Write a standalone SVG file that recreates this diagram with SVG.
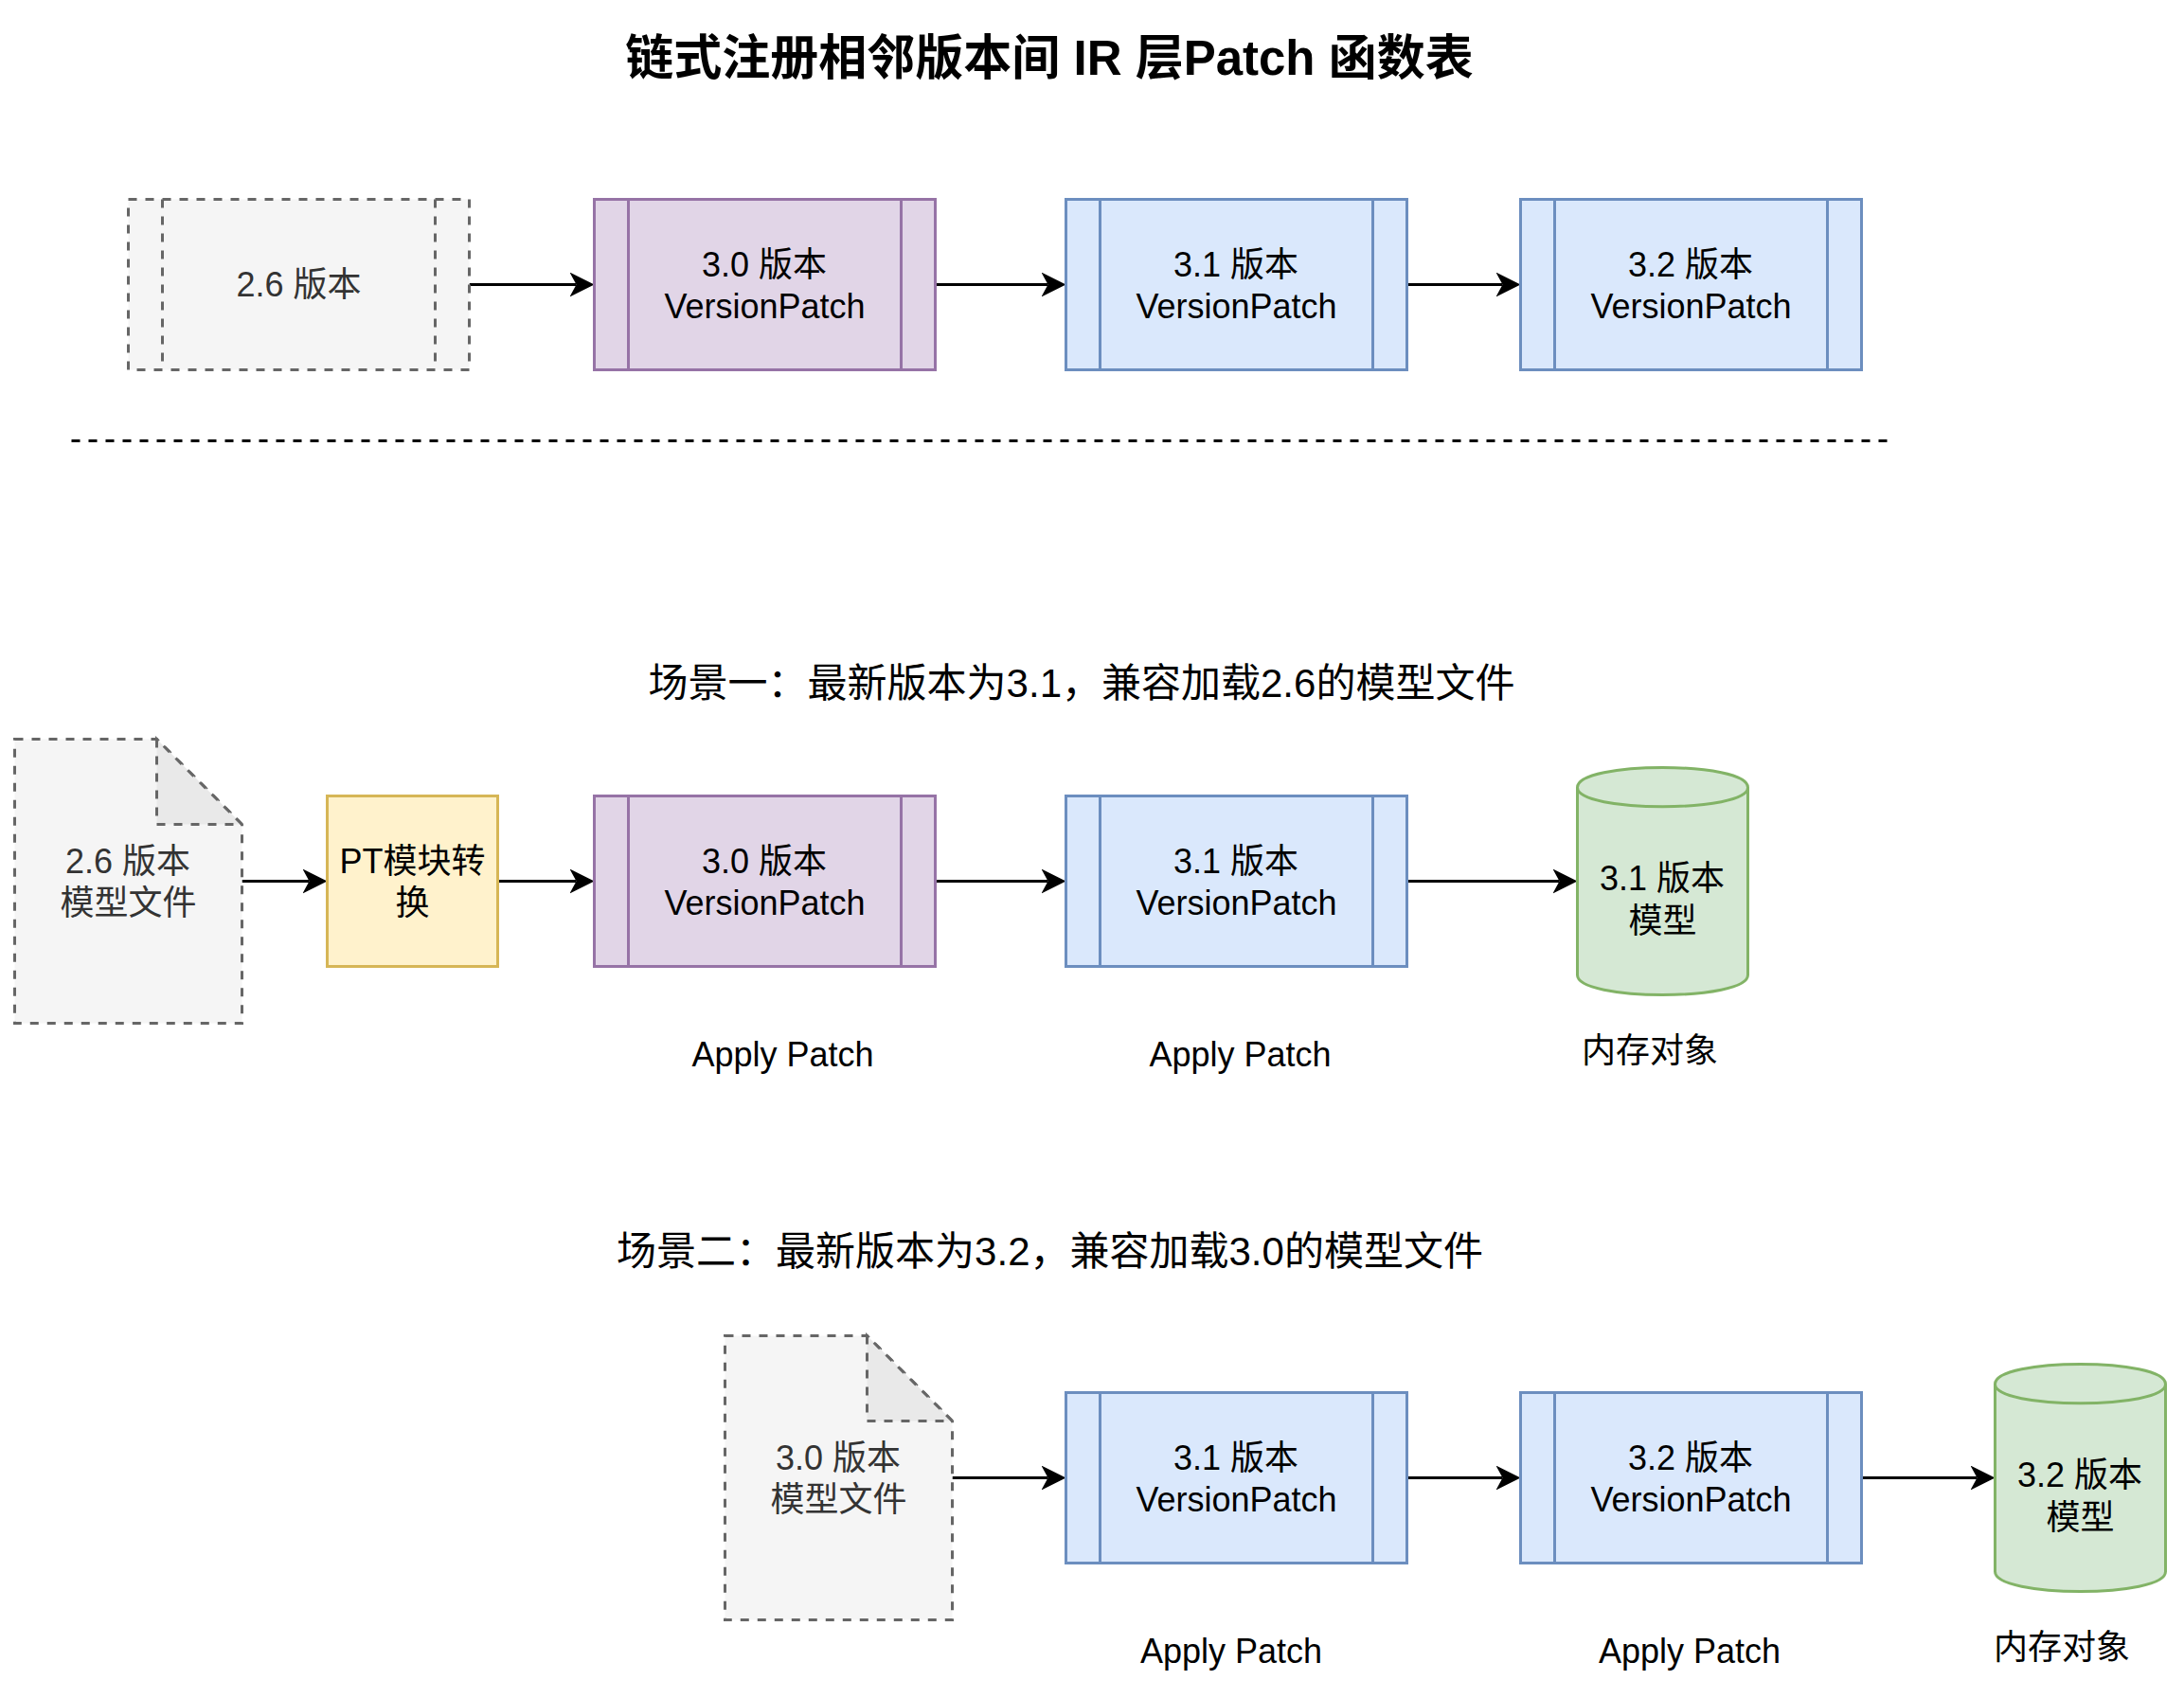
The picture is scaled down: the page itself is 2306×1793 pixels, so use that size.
<svg xmlns="http://www.w3.org/2000/svg" width="2306" height="1793" viewBox="0 0 2306 1793">
<style>
text{font-family:"Liberation Sans","Noto Sans CJK SC",sans-serif;font-size:36px;fill:#000;text-anchor:middle}
text.g{fill:#333}
text.title{font-size:51px;font-weight:bold}
text.scene{font-size:42px}
.pu{fill:#e1d5e7;stroke:#9673a6;stroke-width:3}
.bl{fill:#dae8fc;stroke:#6c8ebf;stroke-width:3}
.ye{fill:#fff2cc;stroke:#d6b656;stroke-width:3}
.gr{fill:#d5e8d4;stroke:#82b366;stroke-width:3}
.da{fill:#f5f5f5;stroke:#666;stroke-width:3;stroke-dasharray:9 9}
.fold{fill:#e9e9e9;stroke:#666;stroke-width:3;stroke-dasharray:9 9}
.arrow{stroke:#000;stroke-width:3;fill:none;marker-end:url(#arr)}
.sep{stroke:#000;stroke-width:3;fill:none;stroke-dasharray:9 9}
</style>
<defs>
<marker id="arr" markerUnits="userSpaceOnUse" markerWidth="26" markerHeight="26" viewBox="0 0 26 26" refX="7" refY="13" orient="auto"><path d="M26 13L0 0L7 13L0 26Z" fill="#000"/></marker>
<g id="vp"><rect x="0" y="0" width="360" height="180"/><path d="M36 0V180M324 0V180"/></g>
<path id="doc" d="M0 0H150L240 90V300H0Z"/>
<path id="docf" d="M150 0V90H240Z"/>
<g id="cyl"><path d="M0 21C0 -7 180 -7 180 21V219C180 247 0 247 0 219Z"/><path fill="none" d="M0 21C0 48 180 48 180 21"/></g>
</defs>

<text class="title" x="1108" y="79">链式注册相邻版本间 IR 层Patch 函数表</text>

<g id="connectors">
<path class="sep" d="M75.5 465.5H1995.5"/>
<path class="arrow" d="M495.5 300.5H608.5"/>
<path class="arrow" d="M987.5 300.5H1106.5"/>
<path class="arrow" d="M1485.5 300.5H1586.5"/>
<path class="arrow" d="M255.5 930.5H326.5"/>
<path class="arrow" d="M525.5 930.5H608.5"/>
<path class="arrow" d="M987.5 930.5H1106.5"/>
<path class="arrow" d="M1485.5 930.5H1646.5"/>
<path class="arrow" d="M1005.5 1560.5H1106.5"/>
<path class="arrow" d="M1485.5 1560.5H1586.5"/>
<path class="arrow" d="M1965.5 1560.5H2087.5"/>
</g>

<g id="n-26"><use href="#vp" x="135.5" y="210.5" class="da"/><text class="g" x="315.5" y="313">2.6 版本</text></g>
<g id="n-30"><use href="#vp" x="627.5" y="210.5" class="pu"/><text x="807" y="292">3.0 版本</text><text x="807.5" y="336">VersionPatch</text></g>
<g id="n-31"><use href="#vp" x="1125.5" y="210.5" class="bl"/><text x="1305" y="292">3.1 版本</text><text x="1305.5" y="336">VersionPatch</text></g>
<g id="n-32"><use href="#vp" x="1605.5" y="210.5" class="bl"/><text x="1785" y="292">3.2 版本</text><text x="1785.5" y="336">VersionPatch</text></g>

<text class="scene" x="1142" y="736">场景一：最新版本为3.1，兼容加载2.6的模型文件</text>
<g id="s1-doc"><use href="#doc" x="15.5" y="780.5" class="da"/><use href="#docf" x="15.5" y="780.5" class="fold"/><text class="g" x="135" y="922">2.6 版本</text><text class="g" x="135.5" y="966">模型文件</text></g>
<g id="s1-pt"><rect class="ye" x="345.5" y="840.5" width="180" height="180"/><text x="435.5" y="922">PT模块转</text><text x="435.5" y="966">换</text></g>
<g id="s1-30"><use href="#vp" x="627.5" y="840.5" class="pu"/><text x="807" y="922">3.0 版本</text><text x="807.5" y="966">VersionPatch</text></g>
<g id="s1-31"><use href="#vp" x="1125.5" y="840.5" class="bl"/><text x="1305" y="922">3.1 版本</text><text x="1305.5" y="966">VersionPatch</text></g>
<g id="s1-cyl"><use href="#cyl" x="1665.5" y="810.5" class="gr"/><text x="1755" y="940">3.1 版本</text><text x="1755.5" y="985">模型</text></g>
<text x="826.5" y="1126">Apply Patch</text>
<text x="1309.5" y="1126">Apply Patch</text>
<text x="1742" y="1122">内存对象</text>

<text class="scene" x="1108.5" y="1336">场景二：最新版本为3.2，兼容加载3.0的模型文件</text>
<g id="s2-doc"><use href="#doc" x="765.5" y="1410.5" class="da"/><use href="#docf" x="765.5" y="1410.5" class="fold"/><text class="g" x="885" y="1552">3.0 版本</text><text class="g" x="885.5" y="1596">模型文件</text></g>
<g id="s2-31"><use href="#vp" x="1125.5" y="1470.5" class="bl"/><text x="1305" y="1552">3.1 版本</text><text x="1305.5" y="1596">VersionPatch</text></g>
<g id="s2-32"><use href="#vp" x="1605.5" y="1470.5" class="bl"/><text x="1785" y="1552">3.2 版本</text><text x="1785.5" y="1596">VersionPatch</text></g>
<g id="s2-cyl"><use href="#cyl" x="2106.5" y="1440.5" class="gr"/><text x="2196" y="1570">3.2 版本</text><text x="2196.5" y="1615">模型</text></g>
<text x="1300" y="1756">Apply Patch</text>
<text x="1784" y="1756">Apply Patch</text>
<text x="2177" y="1752">内存对象</text>
</svg>
